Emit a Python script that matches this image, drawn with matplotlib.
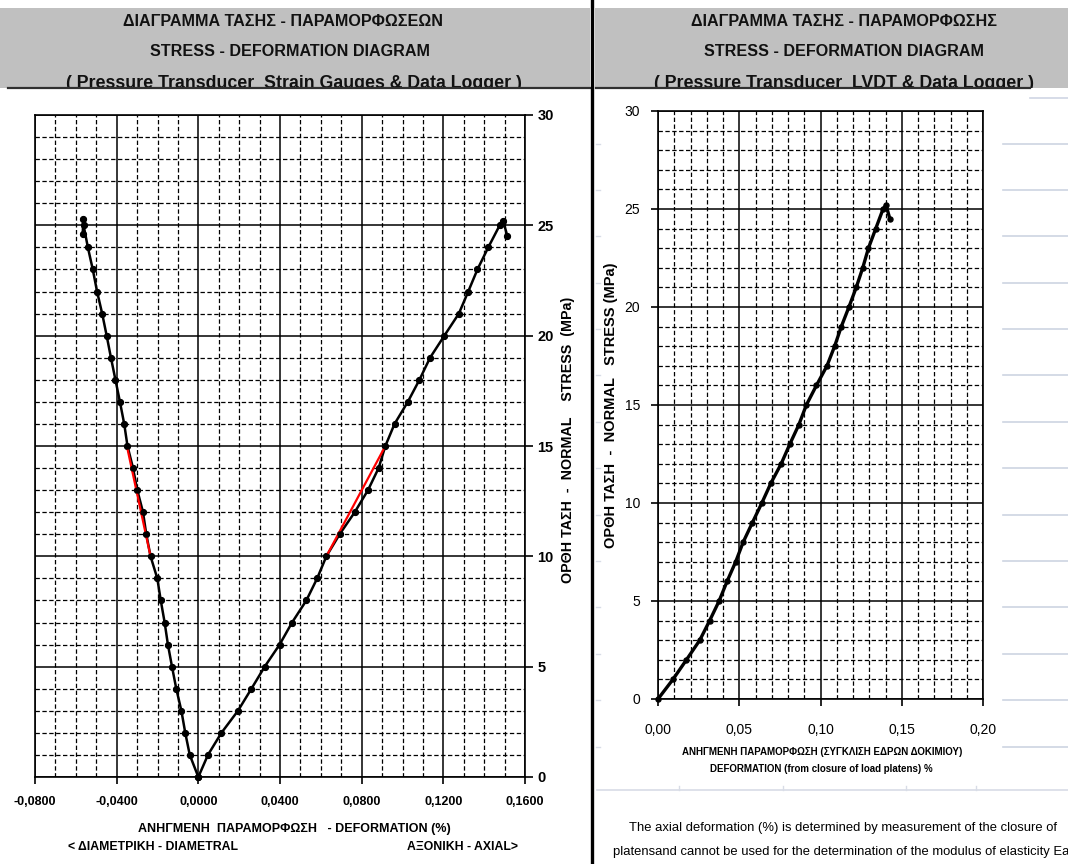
import matplotlib
matplotlib.use('Agg')
import matplotlib.pyplot as plt
from matplotlib.patches import Rectangle
from matplotlib.lines import Line2D
from matplotlib.ticker import MultipleLocator, FuncFormatter

# ---------------- data ----------------
# Left chart: strain gauges, stress (MPa) vs deformation (%)
dia_stress = [0, 1, 2, 3, 4, 5, 6, 7, 8, 9, 10, 11, 12, 13, 14, 15, 16, 17, 18, 19, 20, 21, 22, 23, 24, 25, 25.3, 24.6]
dia_strain = [0.0, -0.0042, -0.0064, -0.0083, -0.0108, -0.0129, -0.0149, -0.0165, -0.0184, -0.0201, -0.0234,
              -0.0255, -0.0271, -0.0299, -0.0320, -0.0347, -0.0363, -0.0384, -0.0406, -0.0428, -0.0449, -0.0471,
              -0.0496, -0.0517, -0.0541, -0.0562, -0.0564, -0.0566]
ax_stress = [0, 1, 2, 3, 4, 5, 6, 7, 8, 9, 10, 11, 12, 13, 14, 15, 16, 17, 18, 19, 20, 21, 22, 23, 24, 25, 25.2, 24.5]
ax_strain = [0.0, 0.0047, 0.0113, 0.0194, 0.0260, 0.0325, 0.0398, 0.0459, 0.0529, 0.0582, 0.0627, 0.0692,
             0.0766, 0.0831, 0.0883, 0.0916, 0.0961, 0.1026, 0.1083, 0.1135, 0.1205, 0.1276, 0.1322, 0.1367,
             0.1420, 0.1476, 0.1493, 0.1514]
# Linear fit segments (10-15 MPa), drawn in red
fit_stress = [10, 15]
dia_fit_strain = [-0.0234, -0.0350]
ax_fit_strain = [0.0627, 0.0916]

# Right chart: LVDT (closure of platens)
lvdt_stress = [0, 1, 2, 3, 4, 5, 6, 7, 8, 9, 10, 11, 12, 13, 14, 15, 16, 17, 18, 19, 20, 21, 22, 23, 24, 25, 25.2, 24.5]
lvdt_strain = [0.0, 0.0092, 0.0175, 0.0257, 0.0318, 0.0376, 0.0425, 0.0478, 0.0524, 0.0581, 0.0639, 0.0694,
               0.0758, 0.0811, 0.0867, 0.0913, 0.0975, 0.1040, 0.1087, 0.1128, 0.1175, 0.1220, 0.1260, 0.1295,
               0.1340, 0.1385, 0.1403, 0.1427]

# ---------------- figure ----------------
W, H = 1068, 864
NARROW = ['Liberation Sans', 'DejaVu Sans']
REG = ['Liberation Sans', 'DejaVu Sans']
plt.rcParams['font.family'] = NARROW
fig = plt.figure(figsize=(W / 100, H / 100), dpi=100)
fig.patch.set_facecolor('white')


def fx(x):
    return x / W


def fy(y):
    return 1 - y / H


def add_line(xs, ys, **kw):
    fig.add_artist(Line2D([fx(v) for v in xs], [fy(v) for v in ys], transform=fig.transFigure, **kw))


# header bands
fig.add_artist(Rectangle((fx(0), fy(88)), fx(590) - fx(0), fy(8) - fy(88), transform=fig.transFigure,
                         facecolor='#c0c0c0', edgecolor='none', zorder=0))
fig.add_artist(Rectangle((fx(595), fy(88)), fx(1068) - fx(595), fy(8) - fy(88), transform=fig.transFigure,
                         facecolor='#c0c0c0', edgecolor='none', zorder=0))

hdr = dict(ha='center', va='center', fontsize=11.6, fontweight='bold', family=NARROW, color='#111111')
fig.text(fx(283), fy(22), 'ΔΙΑΓΡΑΜΜΑ ΤΑΣΗΣ - ΠΑΡΑΜΟΡΦΩΣΕΩΝ', **hdr)
fig.text(fx(290), fy(51), 'STRESS - DEFORMATION DIAGRAM', **hdr)
fig.text(fx(294), fy(84), '( Pressure Transducer  Strain Gauges & Data Logger )', **dict(hdr, fontsize=12.8))
fig.text(fx(844), fy(22), 'ΔΙΑΓΡΑΜΜΑ ΤΑΣΗΣ - ΠΑΡΑΜΟΡΦΩΣΗΣ', **hdr)
fig.text(fx(844), fy(51), 'STRESS - DEFORMATION DIAGRAM', **hdr)
fig.text(fx(844), fy(84), '( Pressure Transducer  LVDT & Data Logger )', **dict(hdr, fontsize=12.8))
# cover lower part of third header line
fig.add_artist(Rectangle((0, fy(102)), 1, fy(88) - fy(102), transform=fig.transFigure,
                         facecolor='white', edgecolor='none', zorder=4))
add_line([8, 590], [88, 88], color='#303030', lw=1.6, zorder=5)
add_line([596, 1030], [88, 88], color='#303030', lw=1.6, zorder=5)
add_line([1030, 1068], [98, 98], color='#d0d6e4', lw=1.2, zorder=5)
# vertical separator
add_line([592, 592], [0, 864], color='black', lw=2.4, zorder=6)

# spreadsheet cell lines on the far right
y = 143.5
while y < 780:
    add_line([1003, 1068], [y, y], color='#cdd4e2', lw=1.2, zorder=1)
    add_line([596, 600], [y, y], color='#d8dce6', lw=1.0, zorder=1)
    y += 46.4
add_line([597, 1068], [790, 790], color='#d8dce6', lw=1.2, zorder=1)
for xv in [679, 783, 906, 976]:
    add_line([xv, xv], [786, 790], color='#d8dce6', lw=1.0, zorder=1)


def style_grid(ax):
    ax.grid(which='major', color='black', lw=1.1, ls='-')
    ax.grid(which='minor', color='black', lw=0.9, ls=(0, (3.5, 2)))
    ax.set_axisbelow(True)
    for s in ax.spines.values():
        s.set_color('black')
        s.set_linewidth(1.2)


# ---------------- left chart ----------------
ax1 = fig.add_axes([fx(35), fy(777), fx(525) - fx(35), fy(115) - fy(777)])
ax1.set_xlim(-0.08, 0.16)
ax1.set_ylim(0, 30)
ax1.xaxis.set_major_locator(MultipleLocator(0.04))
ax1.xaxis.set_minor_locator(MultipleLocator(0.01))
ax1.yaxis.set_major_locator(MultipleLocator(5))
ax1.yaxis.set_minor_locator(MultipleLocator(1))
style_grid(ax1)
ax1.yaxis.tick_right()


def fmt4(v, p):
    if abs(v) < 1e-12:
        v = 0.0
    return f'{v:.4f}'.replace('.', ',')


ax1.xaxis.set_major_formatter(FuncFormatter(fmt4))
ax1.yaxis.set_major_formatter(FuncFormatter(lambda v, p: f'{v:.0f}'))
ax1.tick_params(which='minor', length=0)
ax1.tick_params(axis='x', which='major', direction='out', length=5, width=1.2, labelsize=9, pad=9)
ax1.tick_params(axis='y', which='major', direction='out', length=6, width=1.2, labelsize=10.5, pad=3)
for t in ax1.get_xticklabels() + ax1.get_yticklabels():
    t.set_fontweight('bold')

ax1.plot(dia_strain, dia_stress, color='black', lw=1.8, marker='o', ms=4.2, zorder=3, clip_on=False)
ax1.plot(ax_strain, ax_stress, color='black', lw=1.8, marker='o', ms=4.2, zorder=3, clip_on=False)
ax1.plot(dia_fit_strain, fit_stress, color='#ff0000', lw=1.6, zorder=4)
ax1.plot(ax_fit_strain, fit_stress, color='#ff0000', lw=1.6, zorder=4)
ax1.plot(dia_strain, dia_stress, ls='none', marker='o', ms=3.6, color='black', zorder=5, clip_on=False)
ax1.plot(ax_strain, ax_stress, ls='none', marker='o', ms=3.6, color='black', zorder=5, clip_on=False)

fig.text(fx(568), fy(440), 'ΟΡΘΗ ΤΑΣΗ  -  NORMAL    STRESS  (MPa)', rotation=90, ha='center', va='center',
         fontsize=10.3, fontweight='bold', family=REG)
fig.text(fx(294), fy(829), 'ΑΝΗΓΜΕΝΗ  ΠΑΡΑΜΟΡΦΩΣΗ   - DEFORMATION (%)', ha='center', va='center',
         fontsize=9, fontweight='bold', family=NARROW)
fig.text(fx(68), fy(847), '< ΔΙΑΜΕΤΡΙΚΗ - DIAMETRAL', ha='left', va='center',
         fontsize=8.8, fontweight='bold', family=NARROW)
fig.text(fx(518), fy(847), 'ΑΞΟΝΙΚΗ - AXIAL>', ha='right', va='center',
         fontsize=8.8, fontweight='bold', family=NARROW)

# ---------------- right chart ----------------
ax2 = fig.add_axes([fx(658), fy(699), fx(983) - fx(658), fy(111) - fy(699)])
ax2.set_xlim(0, 0.20)
ax2.set_ylim(0, 30)
ax2.xaxis.set_major_locator(MultipleLocator(0.05))
ax2.xaxis.set_minor_locator(MultipleLocator(0.01))
ax2.yaxis.set_major_locator(MultipleLocator(5))
ax2.yaxis.set_minor_locator(MultipleLocator(1))
style_grid(ax2)
ax2.xaxis.set_major_formatter(FuncFormatter(lambda v, p: f'{v:.2f}'.replace('.', ',')))
ax2.yaxis.set_major_formatter(FuncFormatter(lambda v, p: f'{v:.0f}'))
ax2.tick_params(which='minor', length=0)
ax2.tick_params(axis='x', which='major', direction='out', length=5, width=1.2, labelsize=10, pad=12)
ax2.tick_params(axis='y', which='major', direction='out', length=5, width=1.2, labelsize=10, pad=8)
for t in ax2.get_xticklabels() + ax2.get_yticklabels():
    t.set_family(REG)

ax2.plot(lvdt_strain, lvdt_stress, color='black', lw=2.4, marker='o', ms=3.6, zorder=3, clip_on=False)

fig.text(fx(611), fy(405), 'ΟΡΘΗ ΤΑΣΗ  -  NORMAL   STRESS (MPa)', rotation=90, ha='center', va='center',
         fontsize=10.5, fontweight='bold', family=REG)
fig.text(fx(822), fy(752), 'ΑΝΗΓΜΕΝΗ ΠΑΡΑΜΟΡΦΩΣΗ (ΣΥΓΚΛΙΣΗ ΕΔΡΩΝ ΔΟΚΙΜΙΟΥ)', ha='center', va='center',
         fontsize=7, fontweight='bold', family=NARROW)
fig.text(fx(821), fy(769), 'DEFORMATION (from closure of load platens) %', ha='center', va='center',
         fontsize=7, fontweight='bold', family=NARROW)

fig.text(fx(843), fy(828), 'The axial deformation (%) is determined by measurement of the closure of',
         ha='center', va='center', fontsize=9.4, family=REG)
fig.text(fx(613), fy(852), 'platensand cannot be used for the determination of the modulus of elasticity Ea',
         ha='left', va='center', fontsize=9.4, family=REG)

fig.savefig('out.png', dpi=100)
